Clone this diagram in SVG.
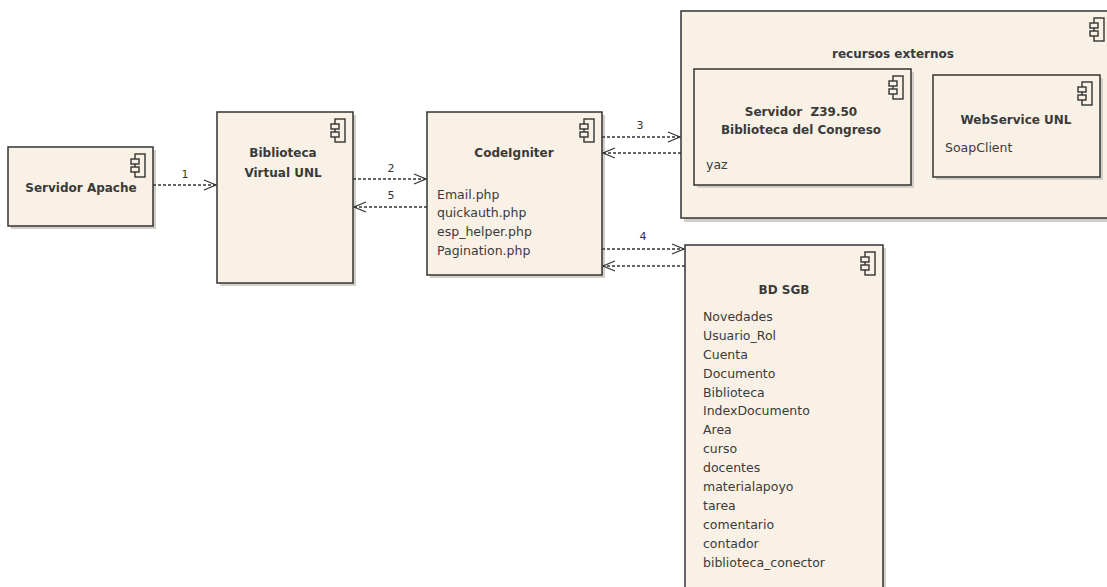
<svg xmlns="http://www.w3.org/2000/svg" width="1107" height="587" viewBox="0 0 1107 587">
<style>
.box{fill:#f9f1e6;stroke:#333;stroke-width:1.5}
.sh{fill:#d3cec8}
.t{font-family:"DejaVu Sans","Liberation Sans",Arial,sans-serif;font-size:12.5px;fill:#3a3a3a}
.b{font-weight:bold;text-anchor:middle;font-size:12px}
.c{fill:none;stroke:#333;stroke-width:1.3;stroke-dasharray:3,2}
.ic{fill:#f9f1e6;stroke:#333;stroke-width:1.4}
.lb{font-family:"DejaVu Sans","Liberation Sans",Arial,sans-serif;font-size:11px;fill:#333;text-anchor:middle}
</style>
<defs>
<marker id="ah" markerWidth="14" markerHeight="12" refX="13" refY="6" orient="auto" markerUnits="userSpaceOnUse">
<path d="M1,1 L13,6 L1,11" fill="none" stroke="#333" stroke-width="1.2"/>
</marker>
<g id="icon">
<rect class="ic" x="-10" y="0" width="10" height="23"/>
<rect class="ic" x="-14" y="5" width="8" height="5"/>
<rect class="ic" x="-14" y="13" width="8" height="5"/>
</g>
</defs>
<rect width="1107" height="587" fill="#fff"/>

<g id="recursos">
<rect class="sh" x="684" y="14" width="430" height="208"/>
<rect class="box" x="681" y="11" width="430" height="207"/>
<use href="#icon" x="1104" y="18"/>
<text class="t b" x="893" y="58">recursos externos</text>
</g>

<g id="z3950">
<rect class="sh" x="697" y="72" width="217" height="116"/>
<rect class="box" x="694" y="69" width="217" height="116"/>
<use href="#icon" x="903" y="76"/>
<text class="t b" x="801" y="116" xml:space="preserve">Servidor  Z39.50</text>
<text class="t b" x="801" y="134">Biblioteca del Congreso</text>
<text class="t" x="706" y="169">yaz</text>
</g>

<g id="webservice">
<rect class="sh" x="936" y="78" width="167" height="102"/>
<rect class="box" x="933" y="75" width="167" height="102"/>
<use href="#icon" x="1092" y="82"/>
<text class="t b" x="1016" y="124">WebService UNL</text>
<text class="t" x="945" y="152">SoapClient</text>
</g>

<g id="apache">
<rect class="sh" x="11" y="150" width="145" height="79"/>
<rect class="box" x="8" y="147" width="145" height="79"/>
<use href="#icon" x="145" y="154"/>
<text class="t b" x="81" y="192">Servidor Apache</text>
</g>

<g id="biblioteca">
<rect class="sh" x="220" y="115" width="136" height="171"/>
<rect class="box" x="217" y="112" width="136" height="171"/>
<use href="#icon" x="345" y="119"/>
<text class="t b" x="283" y="157">Biblioteca</text>
<text class="t b" x="283" y="177">Virtual UNL</text>
</g>

<g id="codeigniter">
<rect class="sh" x="430" y="115" width="175" height="163"/>
<rect class="box" x="427" y="112" width="175" height="163"/>
<use href="#icon" x="594" y="119"/>
<text class="t b" x="514" y="157">CodeIgniter</text>
<text class="t" x="437" y="199">Email.php</text>
<text class="t" x="437" y="217">quickauth.php</text>
<text class="t" x="437" y="236">esp_helper.php</text>
<text class="t" x="437" y="255">Pagination.php</text>
</g>

<g id="bdsgb">
<rect class="sh" x="688" y="248" width="198" height="345"/>
<rect class="box" x="685" y="245" width="198" height="345"/>
<use href="#icon" x="875" y="252"/>
<text class="t b" x="784" y="294">BD SGB</text>
<text class="t" x="703" y="321">Novedades</text>
<text class="t" x="703" y="340">Usuario_Rol</text>
<text class="t" x="703" y="359">Cuenta</text>
<text class="t" x="703" y="378">Documento</text>
<text class="t" x="703" y="397">Biblioteca</text>
<text class="t" x="703" y="415">IndexDocumento</text>
<text class="t" x="703" y="434">Area</text>
<text class="t" x="703" y="453">curso</text>
<text class="t" x="703" y="472">docentes</text>
<text class="t" x="703" y="491">materialapoyo</text>
<text class="t" x="703" y="510">tarea</text>
<text class="t" x="703" y="529">comentario</text>
<text class="t" x="703" y="548">contador</text>
<text class="t" x="703" y="567">biblioteca_conector</text>
</g>

<g id="connectors">
<line class="c" x1="153" y1="185" x2="216" y2="185" marker-end="url(#ah)"/>
<text class="lb" x="185" y="178">1</text>
<line class="c" x1="353" y1="179" x2="426" y2="179" marker-end="url(#ah)"/>
<text class="lb" x="391" y="172">2</text>
<line class="c" x1="427" y1="207" x2="354" y2="207" marker-end="url(#ah)"/>
<text class="lb" x="391" y="199">5</text>
<line class="c" x1="602" y1="137" x2="680" y2="137" marker-end="url(#ah)"/>
<text class="lb" x="640" y="129">3</text>
<line class="c" x1="681" y1="153" x2="603" y2="153" marker-end="url(#ah)"/>
<line class="c" x1="602" y1="249" x2="684" y2="249" marker-end="url(#ah)"/>
<text class="lb" x="643" y="240">4</text>
<line class="c" x1="685" y1="266" x2="603" y2="266" marker-end="url(#ah)"/>
</g>
</svg>
